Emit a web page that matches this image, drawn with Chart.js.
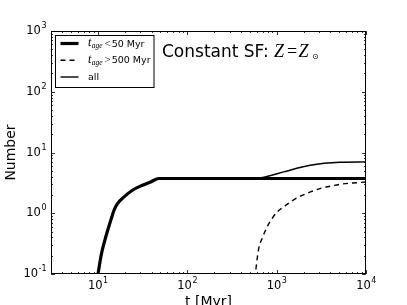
<!DOCTYPE html>
<html>
<head>
<meta charset="utf-8">
<script src="https://cdn.jsdelivr.net/npm/chart.js@4.4.0/dist/chart.umd.min.js"></script>
<style>
  body { margin: 0; background: #fff; }
  canvas { display: block; }
</style>
</head>
<body>
<canvas id="myChart" width="407" height="305"></canvas>
<script>
// time in Myr, number of clusters
const tYoung = [9.9, 11.0, 12.3, 14.0, 15.2, 16.6, 19.7, 24.4, 31.5, 39.1, 48.3, 10000];
const nYoung = [0.085, 0.215, 0.41, 0.77, 1.12, 1.44, 1.86, 2.39, 2.89, 3.28, 3.73, 3.73];

const tOld = [570, 631, 689, 783, 891, 1013, 1200, 1425, 1766, 2384, 3219, 3984, 5000, 10000];
const nOld = [0.085, 0.262, 0.383, 0.596, 0.818, 1.05, 1.27, 1.53, 1.85, 2.24, 2.61, 2.78, 2.98, 3.27];

const tAll = [9.9, 11.0, 12.3, 14.0, 15.2, 16.6, 19.7, 24.4, 31.5, 39.1, 48.3, 600, 800, 1200, 2380, 5130, 10000];
const nAll = [0.085, 0.215, 0.41, 0.77, 1.12, 1.44, 1.86, 2.39, 2.89, 3.28, 3.73, 3.73, 4.06, 4.79, 6.17, 6.9, 7.0];

const seriesLabels = ['t_age <50 Myr', 't_age >500 Myr', 'all'];

const xTicks = [10, 100, 1000, 10000];
const xTickExp = ['1', '2', '3', '4'];
const yTicks = [0.1, 1, 10, 100, 1000];
const yTickExp = ['-1', '0', '1', '2', '3'];

const xLabel = 't [Myr]';
const yLabel = 'Number';
const titleText = 'Constant SF:';

function pts(t, n) {
    let out = [];
    for (let i = 0; i < t.length; i++) out.push({x: t[i], y: n[i]});
    return out;
}

const SANS = '"DejaVu Sans", sans-serif';
const SERIF = '"Liberation Serif", "DejaVu Serif", serif';

function drawPow(ctx, exp, x, y, align) {
    // "10" with raised exponent, y = baseline of the "10"
    ctx.font = '11.5px ' + SANS;
    let w1 = ctx.measureText('10').width;
    ctx.font = '8px ' + SANS;
    let w2 = ctx.measureText(exp).width;
    let x0 = align === 'right' ? x - w1 - w2 : x - (w1 + w2) / 2;
    ctx.textAlign = 'left';
    ctx.textBaseline = 'alphabetic';
    ctx.font = '11.5px ' + SANS;
    ctx.fillText('10', x0, y);
    ctx.font = '8px ' + SANS;
    ctx.fillText(exp, x0 + w1 + 0.5, y - 6);
}

const decorPlugin = {
    id: 'decor',
    afterDatasetsDraw(chart) {
        const ctx = chart.ctx;
        const a = chart.chartArea;
        const xs = chart.scales.x;
        const ys = chart.scales.y;
        ctx.save();
        ctx.fillStyle = '#000';
        ctx.strokeStyle = '#000';

        // frame
        ctx.lineWidth = 1;
        ctx.strokeRect(a.left + 0.5, a.top + 0.5, a.right - a.left - 1, a.bottom - a.top - 1);

        // ticks, pointing in, on all four sides
        ctx.lineWidth = 0.8;
        function tickX(v, len) {
            let px = Math.round(xs.getPixelForValue(v)) + 0.5;
            ctx.beginPath();
            ctx.moveTo(px, a.bottom); ctx.lineTo(px, a.bottom - len);
            ctx.moveTo(px, a.top); ctx.lineTo(px, a.top + len);
            ctx.stroke();
        }
        function tickY(v, len) {
            let py = Math.round(ys.getPixelForValue(v)) + 0.5;
            ctx.beginPath();
            ctx.moveTo(a.left, py); ctx.lineTo(a.left + len, py);
            ctx.moveTo(a.right, py); ctx.lineTo(a.right - len, py);
            ctx.stroke();
        }
        for (let d = 1; d <= 1000; d *= 10) {
            for (let m = 2; m <= 9; m++) {
                let v = m * d;
                if (v >= xs.min && v <= xs.max) tickX(v, 2);
            }
        }
        for (let d = 0.1; d < 1000; d *= 10) {
            for (let m = 2; m <= 9; m++) tickY(m * d, 2);
        }
        xTicks.forEach(v => tickX(v, 4));
        yTicks.forEach(v => tickY(v, 4));

        // tick labels
        xTicks.forEach((v, i) => drawPow(ctx, xTickExp[i], xs.getPixelForValue(v), a.bottom + 14.5, 'center'));
        yTicks.forEach((v, i) => drawPow(ctx, yTickExp[i], a.left - 5, ys.getPixelForValue(v) + 3, 'right'));

        // axis titles
        ctx.font = '14px ' + SANS;
        ctx.textAlign = 'center';
        ctx.textBaseline = 'alphabetic';
        ctx.fillText(xLabel, (a.left + a.right) / 2, 306);
        ctx.save();
        ctx.translate(15, (a.top + a.bottom) / 2);
        ctx.rotate(-Math.PI / 2);
        ctx.fillText(yLabel, 0, 0);
        ctx.restore();

        // title: Constant SF: Z = Z_sun
        ctx.textAlign = 'left';
        ctx.font = '17px ' + SANS;
        ctx.fillText(titleText, 162, 57);
        ctx.font = 'italic 18px ' + SERIF;
        ctx.fillText('Z', 274, 57);
        ctx.font = '18px ' + SERIF;
        ctx.fillText('=', 287, 57);
        ctx.font = 'italic 18px ' + SERIF;
        ctx.fillText('Z', 298.5, 57);
        ctx.font = '8px ' + SANS;
        ctx.fillText('\u2299', 312, 58.5);

        // legend
        ctx.fillStyle = '#fff';
        ctx.fillRect(56, 35, 98, 52);
        ctx.strokeStyle = '#000';
        ctx.lineWidth = 1;
        ctx.strokeRect(55.5, 35.5, 98.5, 52);
        const rows = [43.5, 60.2, 77];
        chart.data.datasets.forEach((ds, i) => {
            let y = rows[i];
            ctx.strokeStyle = ds.borderColor;
            ctx.lineWidth = ds.borderWidth;
            ctx.setLineDash(ds.borderDash || []);
            ctx.beginPath();
            ctx.moveTo(60.5, y); ctx.lineTo(78.5, y);
            ctx.stroke();
            ctx.setLineDash([]);
            ctx.fillStyle = '#000';
            let lx = 88;
            let text = ds.label;
            if (text.startsWith('t_age ')) {
                ctx.font = 'italic 12px ' + SERIF;
                ctx.fillText('t', lx, y + 2.5);
                lx += ctx.measureText('t').width + 0.3;
                ctx.font = 'italic 7.5px ' + SERIF;
                ctx.fillText('age', lx, y + 4.5);
                lx += ctx.measureText('age').width + 2;
                text = text.slice(6);
                ctx.font = '11px ' + SERIF;
                ctx.fillText(text[0], lx, y + 3);
                lx += ctx.measureText(text[0]).width + 1;
                text = text.slice(1);
            }
            ctx.font = '9.5px ' + SANS;
            ctx.fillText(text, lx, y + 3);
        });

        ctx.restore();
    }
};

const chart = new Chart(document.getElementById('myChart'), {
    type: 'line',
    data: {
        datasets: [{
            label: seriesLabels[0],
            data: pts(tYoung, nYoung),
            borderColor: '#000',
            borderWidth: 3.2,
            cubicInterpolationMode: 'monotone'
        }, {
            label: seriesLabels[1],
            data: pts(tOld, nOld),
            borderColor: '#000',
            borderWidth: 1.4,
            borderDash: [5, 4],
            cubicInterpolationMode: 'monotone'
        }, {
            label: seriesLabels[2],
            data: pts(tAll, nAll),
            borderColor: '#000',
            borderWidth: 1.4,
            cubicInterpolationMode: 'monotone'
        }]
    },
    options: {
        responsive: false,
        animation: false,
        elements: { point: { radius: 0 } },
        layout: { padding: { left: 51, top: 31, right: 41, bottom: 31 } },
        plugins: { legend: { display: false }, tooltip: { enabled: false }, title: { display: false } },
        scales: {
            x: { type: 'logarithmic', min: 3, max: 10000, display: false },
            y: { type: 'logarithmic', min: 0.1, max: 1000, display: false }
        }
    },
    plugins: [decorPlugin]
});
</script>
</body>
</html>
